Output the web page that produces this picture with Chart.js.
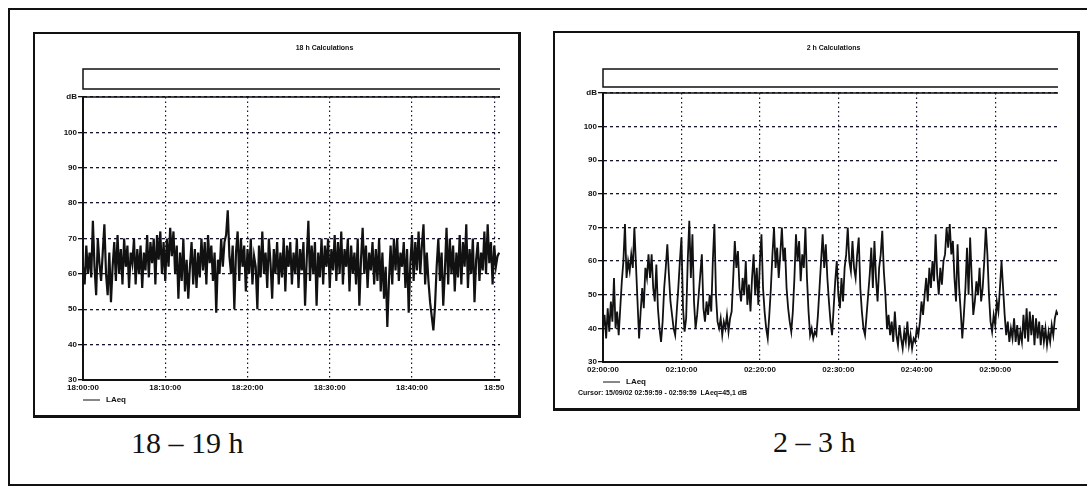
<!DOCTYPE html>
<html>
<head>
<meta charset="utf-8">
<script src="https://cdn.jsdelivr.net/npm/chart.js@4.4.1/dist/chart.umd.min.js"></script>
<style>
  html, body { margin: 0; padding: 0; background: #fff; }
  body { width: 1087px; height: 486px; position: relative; overflow: hidden; }
  .box { position: absolute; box-sizing: border-box; border: 2px solid #111; }
  canvas { position: absolute; }
  .caption { position: absolute; font-family: "Liberation Serif", "Times New Roman", serif; font-size: 30px; line-height: 30px; color: #111; white-space: nowrap; }
</style>
</head>
<body>
<div class="box" style="left:8px;top:8px;width:1100px;height:478px;"></div>
<div class="box" style="left:33px;top:32px;width:488px;height:386px;border-bottom-width:3px;border-right-width:3px;"></div>
<canvas id="eveningChart" width="483" height="381" style="left:35px;top:34px;"></canvas>
<div class="box" style="left:553px;top:31px;width:527px;height:380px;border-bottom-width:3px;border-right-width:3px;"></div>
<canvas id="nightChart" width="522" height="375" style="left:555px;top:33px;"></canvas>
<div class="caption" style="left:131px;top:428px;">18 – 19 h</div>
<div class="caption" style="left:773px;top:427px;">2 – 3 h</div>

<script>
"use strict";

// LAeq samples, one every 0.2 min (12 s)
const sampleStepMin = 0.2;

// 18:00 - 18:50:36
const eveningLAeq = [
  62,57,68,60,66, 59,75,62,54,70, 63,58,66,74,60, 54,66,52,62,69, 58,71,60,67,57,
  70,62,68,56,66, 63,70,57,67,60, 68,56,66,61,71, 59,69,63,70,57, 71,64,72,60,69,
  58,70,62,73,65, 72,60,68,53,66, 58,70,55,64,53, 62,69,57,67,56, 66,59,70,61,69,
  57,71,63,68,58, 66,49,64,60,70, 62,69,71,78,65, 60,68,50,66,72, 58,70,62,68,55,
  67,60,70,57,65, 62,50,68,59,72, 60,66,56,70,63, 53,67,60,69,57, 66,59,70,55,68,
  62,69,57,66,60, 70,56,67,61,69, 51,64,75,58,68, 60,69,51,66,59, 70,57,68,62,70,
  56,67,61,71,58, 69,60,72,57,67, 62,70,55,68,60, 66,57,70,51,64, 73,60,68,56,66,
  61,69,57,67,58, 70,55,66,53,62, 45,58,68,57,70, 61,70,58,66,62, 69,56,67,49,63,
  71,58,69,61,72, 60,68,74,57,66, 58,52,48,44,51, 62,70,58,66,51, 61,73,57,70,60,
  68,55,66,59,71, 57,69,62,74,56, 67,60,70,52,64, 69,58,66,61,72, 60,74,63,69,57,
  68,62,65,66
];

// 02:00 - 02:58
const nightLAeq = [
  40,44,37,46,39, 48,42,55,40,45, 38,46,54,60,71, 55,60,57,62,58, 70,59,48,37,45,
  52,46,58,55,62, 55,62,52,48,59, 46,40,36,42,52, 58,65,56,48,44, 40,38,45,52,60,
  67,46,39,43,60, 72,55,68,48,40, 44,50,56,62,46, 42,48,44,50,45, 60,71,50,42,40,
  43,38,42,40,44, 39,43,45,55,66, 58,63,52,48,55, 50,60,47,53,45, 55,62,50,58,47,
  60,68,52,45,40, 37,44,52,62,70, 58,64,55,62,70, 60,64,52,46,42, 39,45,55,68,60,
  66,54,62,58,70, 55,45,38,40,37, 39,38,44,52,60, 68,58,65,55,48, 42,38,46,54,60,
  50,46,55,48,58, 62,70,60,57,66, 58,55,62,67,52, 45,40,38,44,50, 56,64,52,66,55,
  48,58,62,69,57, 50,40,44,38,42, 36,45,38,35,41, 37,34,39,36,42, 35,38,34,37,36,
  40,38,42,48,44, 50,55,48,58,52, 60,54,68,56,50, 58,53,60,62,70, 64,71,62,66,55,
  48,65,52,45,37, 44,52,64,50,67, 55,44,48,54,50, 58,48,52,60,70, 62,50,42,39,44,
  41,48,45,52,60, 52,44,38,42,36, 40,37,43,36,41, 35,39,36,44,37, 46,36,45,38,44,
  35,43,37,42,35, 41,36,40,35,39, 36,41,38,43,45,
  44
];

// axis ticks
const yTickValues = [30, 40, 50, 60, 70, 80, 90, 100, 110];
const yTickLabels = ['30', '40', '50', '60', '70', '80', '90', '100', 'dB'];
const xTickMinutes = [0, 10, 20, 30, 40, 50];
const eveningTickLabels = ['18:00:00', '18:10:00', '18:20:00', '18:30:00', '18:40:00', '18:50'];
const nightTickLabels = ['02:00:00', '02:10:00', '02:20:00', '02:30:00', '02:40:00', '02:50:00'];

const FONT = '"Liberation Sans", Arial, sans-serif';
const INK = '#111';
const GRID = '#14142e';

/**
 * Draws the empty band above the plot, the solid top line, title, legend and cursor text
 */
const panelDecor = {
    id: 'panelDecor',
    afterDraw(chart, args, opts) {
        const ctx = chart.ctx;
        const a = chart.chartArea;
        ctx.save();
        ctx.strokeStyle = INK;
        ctx.lineWidth = 1.5;
        ctx.beginPath();
        ctx.moveTo(a.right, a.top - opts.bandTop);
        ctx.lineTo(a.left, a.top - opts.bandTop);
        ctx.lineTo(a.left, a.top - opts.bandBottom);
        ctx.lineTo(a.right, a.top - opts.bandBottom);
        ctx.moveTo(a.left, a.top);
        ctx.lineTo(a.right, a.top);
        ctx.stroke();

        ctx.fillStyle = INK;
        ctx.textBaseline = 'middle';
        ctx.font = 'bold 7px ' + FONT;
        ctx.textAlign = 'center';
        ctx.fillText(opts.title, (a.left + a.right) / 2 + opts.titleDx, opts.titleY);

        // legend
        ctx.lineWidth = 1;
        ctx.beginPath();
        ctx.moveTo(a.left, opts.legendY);
        ctx.lineTo(a.left + 17, opts.legendY);
        ctx.stroke();
        ctx.textAlign = 'left';
        ctx.font = 'bold 8px ' + FONT;
        ctx.fillText('LAeq', a.left + 23, opts.legendY);

        if (opts.cursor) {
            ctx.font = 'bold 7px ' + FONT;
            ctx.fillText(opts.cursor, opts.cursorX, opts.cursorY);
        }
        ctx.restore();
    }
};

function makeChart(canvasId, values, xMax, tickLabels, padding, xAxisHeight, lineWidth, decor) {
    const points = values.map((v, i) => ({ x: i * sampleStepMin, y: v }));

    return new Chart(document.getElementById(canvasId), {
        type: 'line',
        data: {
            datasets: [{
                label: 'LAeq',
                data: points,
                borderColor: INK,
                borderWidth: lineWidth,
                borderJoinStyle: 'miter',
                pointRadius: 0,
                tension: 0,
                fill: false
            }]
        },
        options: {
            responsive: false,
            animation: false,
            layout: { padding: padding },
            plugins: {
                legend: { display: false },
                tooltip: { enabled: false },
                panelDecor: decor
            },
            scales: {
                x: {
                    type: 'linear',
                    min: 0,
                    max: xMax,
                    afterBuildTicks: function(scale) {
                        scale.ticks = xTickMinutes.map(v => ({ value: v }));
                    },
                    afterFit: function(scale) {
                        scale.height = xAxisHeight;
                    },
                    ticks: {
                        autoSkip: false,
                        maxRotation: 0,
                        padding: 3,
                        color: INK,
                        font: { family: FONT, size: 8, weight: 'bold' },
                        callback: function(value) {
                            const i = xTickMinutes.indexOf(value);
                            return i >= 0 ? tickLabels[i] : '';
                        }
                    },
                    grid: { color: GRID, lineWidth: 1.2, drawTicks: false },
                    border: { display: true, color: INK, width: 2, dash: [1.5, 3] }
                },
                y: {
                    min: 30,
                    max: 110,
                    afterBuildTicks: function(scale) {
                        scale.ticks = yTickValues.map(v => ({ value: v }));
                    },
                    afterFit: function(scale) {
                        scale.width = 48;
                    },
                    ticks: {
                        padding: 1,
                        color: INK,
                        font: { family: FONT, size: 8, weight: 'bold' },
                        callback: function(value) {
                            const i = yTickValues.indexOf(value);
                            return i >= 0 ? yTickLabels[i] : '';
                        }
                    },
                    grid: { color: GRID, lineWidth: 1.3, tickLength: 5, tickColor: INK },
                    border: { display: true, color: INK, width: 2, dash: [3, 3] }
                }
            }
        },
        plugins: [panelDecor]
    });
}

makeChart('eveningChart', eveningLAeq, 50.7, eveningTickLabels,
    { left: 0, top: 63, right: 18, bottom: 0 }, 35, 2.2,
    { title: '18 h Calculations', titleDx: 33, titleY: 14, bandTop: 28, bandBottom: 8, legendY: 366 });

makeChart('nightChart', nightLAeq, 58, nightTickLabels,
    { left: 0, top: 60, right: 19, bottom: 0 }, 46, 1.8,
    { title: '2 h Calculations', titleDx: 3, titleY: 15, bandTop: 24, bandBottom: 6, legendY: 349,
      cursor: 'Cursor: 15/09/02 02:59:59 - 02:59:59  LAeq=45,1 dB', cursorX: 23, cursorY: 360 });
</script>
</body>
</html>
